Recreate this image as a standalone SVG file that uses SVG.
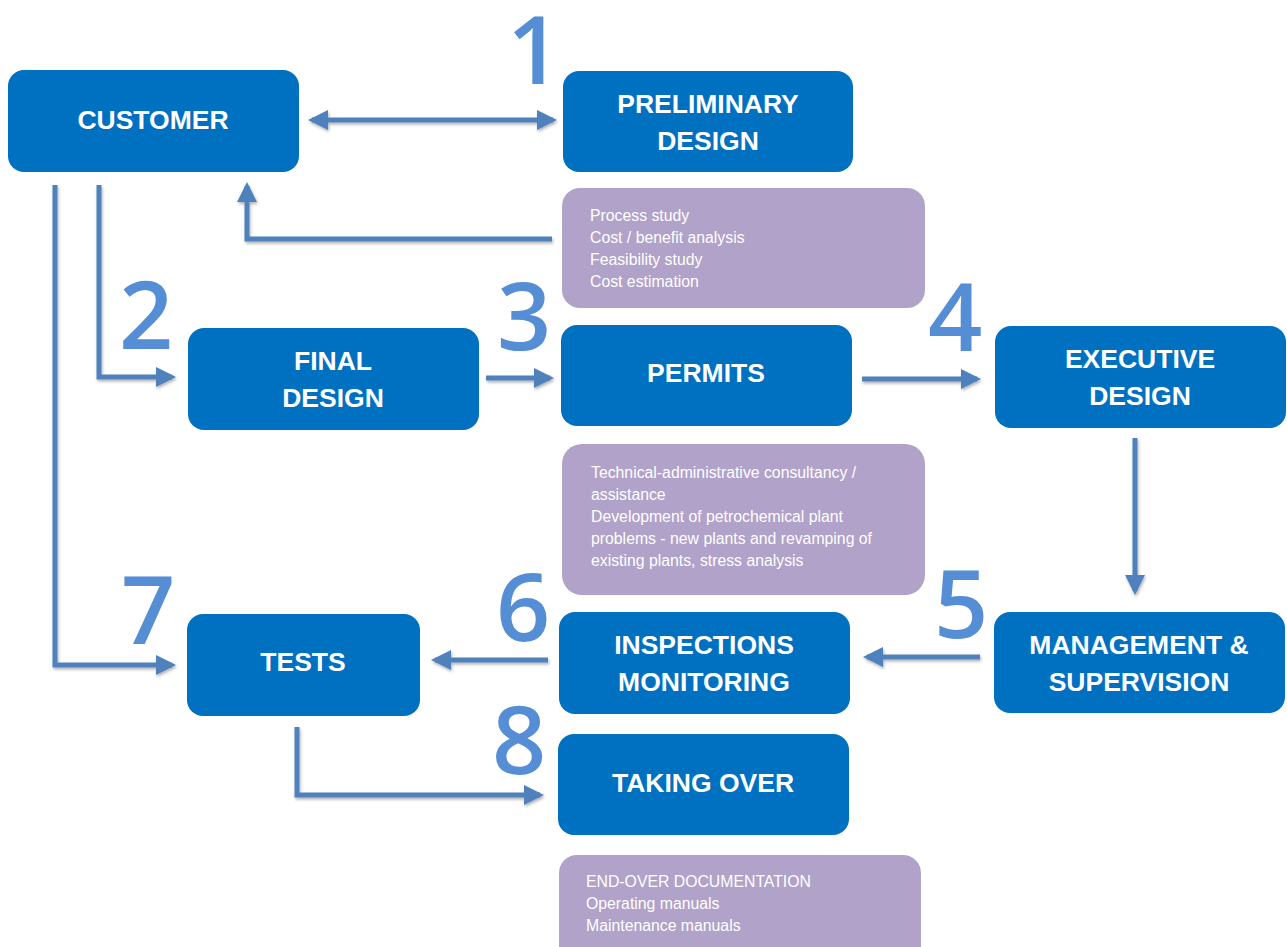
<svg xmlns="http://www.w3.org/2000/svg" width="1287" height="947" viewBox="0 0 1287 947">
<defs>
<style>
.box{fill:#0070C0}
.note{fill:#B1A2C9}
.t{font-family:"Liberation Sans",Arial,sans-serif;font-weight:bold;font-size:26.5px;fill:#fff;text-anchor:middle}
.n{font-family:"Liberation Sans",Arial,sans-serif;font-size:15.8px;fill:#fff}
.num{font-family:"Open Sans","Liberation Sans",sans-serif;font-weight:600;font-size:95px;fill:#558ED5}
.c{fill:none;stroke:#4F81BD;stroke-width:5;filter:url(#sh)}
</style>
<filter id="sh" filterUnits="userSpaceOnUse" x="0" y="0" width="1287" height="947">
<feDropShadow dx="1" dy="2" stdDeviation="1.5" flood-color="#000" flood-opacity="0.3"/>
</filter>
<marker id="ah" viewBox="0 0 10 10" refX="8" refY="5" markerWidth="4" markerHeight="4" orient="auto-start-reverse" markerUnits="strokeWidth">
<path d="M0,0 L10,5 L0,10 z" fill="#4F81BD"/>
</marker>
</defs>
<g id="connectors">
<path class="c" d="M312,120 H553" marker-start="url(#ah)" marker-end="url(#ah)"/>
<path class="c" d="M552,239 H247 V186" marker-end="url(#ah)"/>
<path class="c" d="M55,185 V665 H172" marker-end="url(#ah)"/>
<path class="c" d="M99,185 V377 H172" marker-end="url(#ah)"/>
<path class="c" d="M486,378 H550" marker-end="url(#ah)"/>
<path class="c" d="M862,379 H977" marker-end="url(#ah)"/>
<path class="c" d="M1135,438 V591" marker-end="url(#ah)"/>
<path class="c" d="M980,657 H867" marker-end="url(#ah)"/>
<path class="c" d="M548,660 H435" marker-end="url(#ah)"/>
<path class="c" d="M297,727 V795 H540" marker-end="url(#ah)"/>
</g>
<g id="customer"><rect class="box" x="8" y="70" width="291" height="102" rx="16"/><text class="t" x="153" y="129">CUSTOMER</text></g>
<g id="preliminary"><rect class="box" x="563" y="71" width="290" height="101" rx="16"/><text class="t" x="708" y="113">PRELIMINARY</text><text class="t" x="708" y="150">DESIGN</text></g>
<g id="note1"><rect class="note" x="562" y="188" width="363" height="120" rx="18"/>
<text class="n" x="590" y="221">Process study</text><text class="n" x="590" y="243">Cost / benefit analysis</text><text class="n" x="590" y="265">Feasibility study</text><text class="n" x="590" y="287">Cost estimation</text></g>
<g id="final"><rect class="box" x="188" y="328" width="291" height="102" rx="16"/><text class="t" x="333" y="370">FINAL</text><text class="t" x="333" y="407">DESIGN</text></g>
<g id="permits"><rect class="box" x="561" y="325" width="291" height="101" rx="16"/><text class="t" x="706" y="382">PERMITS</text></g>
<g id="executive"><rect class="box" x="995" y="326" width="291" height="102" rx="16"/><text class="t" x="1140" y="368">EXECUTIVE</text><text class="t" x="1140" y="405">DESIGN</text></g>
<g id="note2"><rect class="note" x="562" y="444" width="363" height="151" rx="20"/>
<text class="n" x="591" y="478">Technical-administrative consultancy /</text><text class="n" x="591" y="500">assistance</text><text class="n" x="591" y="522">Development of petrochemical plant</text><text class="n" x="591" y="544">problems - new plants and revamping of</text><text class="n" x="591" y="566">existing plants, stress analysis</text></g>
<g id="tests"><rect class="box" x="187" y="614" width="233" height="102" rx="16"/><text class="t" x="303" y="671">TESTS</text></g>
<g id="inspections"><rect class="box" x="559" y="612" width="291" height="102" rx="16"/><text class="t" x="704" y="654">INSPECTIONS</text><text class="t" x="704" y="691">MONITORING</text></g>
<g id="management"><rect class="box" x="994" y="612" width="291" height="101" rx="16"/><text class="t" x="1139" y="654">MANAGEMENT &amp;</text><text class="t" x="1139" y="691">SUPERVISION</text></g>
<g id="takingover"><rect class="box" x="558" y="734" width="291" height="101" rx="16"/><text class="t" x="703" y="792">TAKING OVER</text></g>
<g id="note3"><rect class="note" x="559" y="855" width="362" height="110" rx="18"/>
<text class="n" x="586" y="887">END-OVER DOCUMENTATION</text><text class="n" x="586" y="909">Operating manuals</text><text class="n" x="586" y="931">Maintenance manuals</text></g>
<g id="numbers">
<text class="num" x="507" y="84">1</text>
<text class="num" x="119" y="349">2</text>
<text class="num" x="497" y="350">3</text>
<text class="num" x="928" y="351">4</text>
<text class="num" x="934" y="638">5</text>
<text class="num" x="496" y="641">6</text>
<text class="num" x="121" y="644">7</text>
<text class="num" x="492" y="774">8</text>
</g>
</svg>
